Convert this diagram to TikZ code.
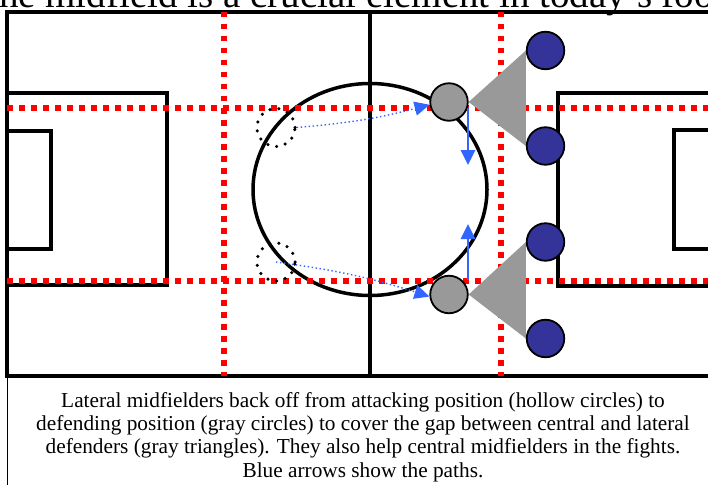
\documentclass[tikz,border=0pt]{standalone}
\usepackage{fontspec}
\setmainfont{Liberation Serif}
\usetikzlibrary{arrows.meta}

\pgfdeclarelayer{back}
\pgfsetlayers{back,main}

\definecolor{zonered}{HTML}{FF0000}
\definecolor{navy}{HTML}{333399}
\definecolor{midgray}{HTML}{999999}
\definecolor{pathblue}{HTML}{3366FF}

\tikzset{
	pitch/.style={draw=black, line width=3.5pt},
	zone/.style={draw=zonered, line width=5.5pt, dash pattern=on 5.5pt off 6.5pt},
	defender/.style={circle, draw=black, line width=1.8pt, fill=navy, minimum size=37.5pt, inner sep=0pt},
	midfielder/.style={circle, draw=black, line width=1.8pt, fill=midgray, minimum size=37.5pt, inner sep=0pt},
	ghost/.style={circle, draw=black, line width=3.5pt, line cap=round, dash pattern=on 0pt off 9pt, minimum size=38pt, inner sep=0pt},
	slide/.style={draw=pathblue, line width=2.7pt, -{Triangle[length=15pt,width=14pt]}},
	drift/.style={draw=pathblue, line width=1.4pt, dash pattern=on 1.4pt off 2.6pt, -{Triangle[length=15pt,width=14pt]}},
	cover/.style={fill=midgray}
}

\begin{document}
\begin{tikzpicture}[x=1pt, y=-1pt]

	\useasboundingbox (0,0) rectangle (708,484);

	% Title cut off at the top
	\node[anchor=base west, font=\fontsize{39}{42}\selectfont, inner sep=0pt] (title) at (-25,8) {The midfield is a crucial element in today's football};

	% Define players
	\node[ghost] (hu) at (276,127.5) {};
	\node[ghost] (hl) at (276,262) {};
	\node[midfielder] (gu) at (449,102) {};
	\node[midfielder] (gl) at (449,294.5) {};
	\node[defender] (d1) at (545.5,50.5) {};
	\node[defender] (d2) at (545.5,146) {};
	\node[defender] (d3) at (545.5,242) {};
	\node[defender] (d4) at (545.5,338.5) {};

	\begin{pgfonlayer}{back}
		% Pitch markings
		\draw[pitch] (7,12) rectangle (730,376);
		\draw[pitch] (370,12) -- (370,376);
		\draw[pitch] (370,189.5) ellipse [x radius=117, y radius=106];
		\draw[pitch] (7,93) rectangle (167,285);
		\draw[pitch] (7,131) rectangle (51,249);
		\draw[pitch] (730,93) rectangle (558,286);
		\draw[pitch] (730,130) rectangle (674,249);

		% Zone lines
		\draw[zone] (224,12) -- (224,376);
		\draw[zone] (501,12) -- (501,376);
		\draw[zone] (7,108) -- (720,108);
		\draw[zone] (7,281) -- (720,281);

		% Gaps covered by the defenders
		\fill[cover] (gu.east) -- (d1.west) -- (d2.west) -- cycle;
		\fill[cover] (gl.east) -- (d3.west) -- (d4.west) -- cycle;
	\end{pgfonlayer}

	% Paths of the lateral midfielders
	\draw[drift] (hu.east) to[bend right=5] (gu.188);
	\draw[drift] (hl.center) to[bend left=5] (gl.186);
	\draw[slide] (gu) ++(19,6) -- ++(0,57);
	\draw[slide] (gl) ++(19,-14.5) -- ++(0,-56);

	% Caption
	\draw[line width=1pt] (7,376) rectangle (730,500);
	\node[font=\fontsize{21.3}{23.3}\selectfont, align=center] (caption) at (363,437) {Lateral midfielders back off from attacking position (hollow circles) to\\defending position (gray circles) to cover the gap between central and lateral\\defenders (gray triangles). They also help central midfielders in the fights.\\Blue arrows show the paths.};

\end{tikzpicture}
\end{document}
